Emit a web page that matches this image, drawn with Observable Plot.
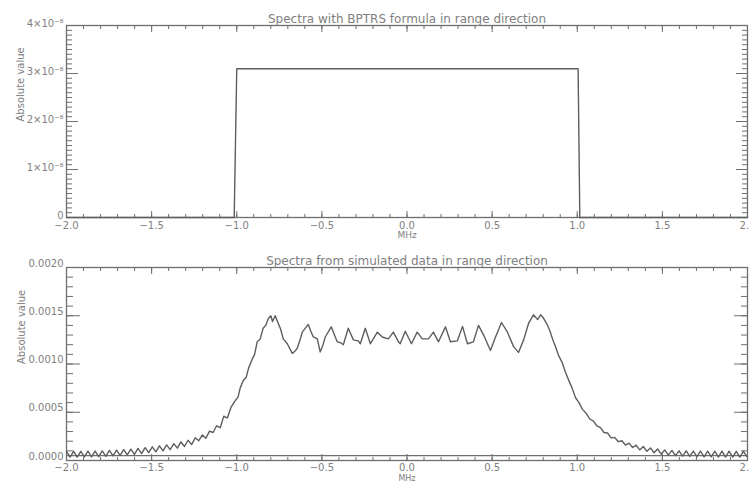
<!DOCTYPE html>
<html><head><meta charset="utf-8">
<script src="https://cdn.jsdelivr.net/npm/d3@7"></script>
<script src="https://cdn.jsdelivr.net/npm/@observablehq/plot@0.6"></script>
<style>
html,body{margin:0;padding:0;background:#fff;overflow:hidden}
#chart svg{display:block}
</style></head><body><div id="chart"></div>
<script>
// ---------- text ----------
const titleTop = "Spectra with BPTRS formula in range direction";
const titleBottom = "Spectra from simulated data in range direction";
const xLabel = "MHz";
const yLabel = "Absolute value";

// ---------- ticks ----------
const xMajorTicks = [-2, -1.5, -1, -0.5, 0, 0.5, 1, 1.5, 2];
const topYMajorTicks = [0, 1e-8, 2e-8, 3e-8, 4e-8];
const topYTickLabels = ["0", "1×10⁻⁸", "2×10⁻⁸", "3×10⁻⁸", "4×10⁻⁸"];
const bottomYMajorTicks = [0, 0.0005, 0.001, 0.0015, 0.002];
const bottomYTickLabels = ["0.0000", "0.0005", "0.0010", "0.0015", "0.0020"];

// ---------- top panel: BPTRS formula spectrum ----------
const bptrsFreq = [-2, -1.015, -1.0, 1.005, 1.015, 2];
const bptrsValue = [0, 0, 3.1e-8, 3.1e-8, 0, 0];

// ---------- bottom panel: simulated spectrum (values in units of 1e-4) ----------
const tailStep = 0.021;
const leftTailStart = -2.0;
const leftTailE4 = [0.95,0.35,0.95,0.35,0.95,0.37,0.97,0.38,0.98,0.40,1.0,0.42,1.05,0.48,1.08,0.52,
  1.12,0.58,1.18,0.64,1.25,0.72,1.33,0.82,1.42,0.9,1.52,1.0,1.62,1.12,1.75,1.28,1.92,1.45,2.1,1.65,
  2.35,2.05,2.65,2.3,3.05,2.9,3.6,3.4,4.6,4.4,5.5,6.1];
const centerFreq = [-0.992,-0.98,-0.962,-0.945,-0.93,-0.909,-0.895,-0.88,-0.862,-0.845,-0.83,-0.815,-0.80,-0.79,-0.774,-0.756,-0.742,-0.727,-0.703,-0.674,-0.66,-0.645,-0.63,-0.615,-0.58,-0.565,-0.55,-0.527,-0.51,-0.495,-0.48,-0.445,-0.41,-0.39,-0.374,-0.345,-0.315,-0.286,-0.274,-0.245,-0.215,-0.174,-0.145,-0.11,-0.08,-0.05,-0.04,-0.01,0.026,0.06,0.09,0.126,0.155,0.185,0.226,0.255,0.296,0.326,0.355,0.39,0.42,0.45,0.49,0.52,0.555,0.59,0.626,0.655,0.685,0.714,0.743,0.767,0.785,0.80,0.826,0.84,0.855,0.87,0.89,0.91,0.93,0.95,0.97,0.99];
const centerE4 = [6.6,7.5,8.3,8.6,9.6,10.5,11.0,12.3,12.6,13.7,14.0,14.7,15.0,14.4,15.0,14.2,13.6,12.6,12.1,11.1,11.3,11.6,12.4,13.3,14.1,13.4,12.8,12.6,11.25,11.9,12.8,13.85,12.3,12.2,12.0,13.7,12.5,12.4,12.1,13.7,12.1,13.3,12.8,12.6,13.3,12.3,12.1,13.4,12.1,13.3,12.6,12.6,13.3,12.3,13.85,12.3,12.4,13.9,12.1,12.3,14.0,13.0,11.4,12.8,14.3,13.3,11.8,11.2,12.5,14.2,15.1,14.6,15.1,14.8,14.0,13.4,12.6,11.9,10.9,10.2,9.2,8.3,7.5,6.5];
const rightTailStart = 1.01;
const rightTailE4 = [6.0,5.3,4.9,4.3,4.1,3.6,3.4,2.9,2.85,2.35,2.4,1.95,2.05,1.6,1.8,1.35,1.6,1.1,1.45,0.95,
  1.3,0.8,1.2,0.65,1.1,0.55,1.05,0.5,1.0,0.45,1.0,0.42,0.98,0.4,0.98,0.38,0.97,0.38,0.97,0.36,0.96,0.36,
  0.96,0.35,0.95,0.35,0.95,0.4];
const baselineValue = 0.00005;

// ---------- build tables ----------
const topData = bptrsFreq.map((f, i) => ({f, v: bptrsValue[i]}));
const simData = [
  ...leftTailE4.map((v, i) => ({f: leftTailStart + i * tailStep, v: v * 1e-4})),
  ...centerFreq.map((f, i) => ({f, v: centerE4[i] * 1e-4})),
  ...rightTailE4.map((v, i) => ({f: rightTailStart + i * tailStep, v: v * 1e-4}))
];

const xMinorTicks = d3.range(-20, 21).map(d => d / 10);
const topYMinorTicks = d3.range(0, 41).map(d => d * 1e-9);
const bottomYMinorTicks = d3.range(0, 21).map(d => d * 1e-4);

const ink = "#6e6e6e";
const textInk = "#808080";
const lineInk = "#5e5e5e";
const none = () => "";

function framedAxes(yMajor, yMinor, majorLen, minorLen, xPad) {
  return [
    Plot.frame({stroke: ink, strokeWidth: 1.3}),
    Plot.axisX({anchor: "bottom", ticks: xMinorTicks, tickSize: 3, dy: -3, tickFormat: none, stroke: ink, label: null}),
    Plot.axisX({anchor: "bottom", ticks: xMajorTicks, tickSize: 6, dy: -6, tickFormat: none, stroke: ink, label: null}),
    Plot.axisX({anchor: "top", ticks: xMinorTicks, tickSize: 3, dy: 3, tickFormat: none, stroke: ink, label: null}),
    Plot.axisX({anchor: "top", ticks: xMajorTicks, tickSize: 6, dy: 6, tickFormat: none, stroke: ink, label: null}),
    Plot.axisY({anchor: "left", ticks: yMinor, tickSize: minorLen, dx: minorLen, tickFormat: none, stroke: ink, label: null}),
    Plot.axisY({anchor: "left", ticks: yMajor, tickSize: majorLen, dx: majorLen, tickFormat: none, stroke: ink, label: null}),
    Plot.axisY({anchor: "right", ticks: yMinor, tickSize: minorLen, dx: -minorLen, tickFormat: none, stroke: ink, label: null}),
    Plot.axisY({anchor: "right", ticks: yMajor, tickSize: majorLen, dx: -majorLen, tickFormat: none, stroke: ink, label: null}),
    Plot.axisX({anchor: "bottom", ticks: xMajorTicks, tickSize: 0, tickPadding: xPad, tickFormat: d3.format(".1f"), fill: textInk, label: null})
  ];
}

const commonStyle = {fontFamily: "DejaVu Sans, sans-serif", fontSize: "10px", color: textInk, background: "white"};

const topPlot = Plot.plot({
  width: 749, height: 242,
  marginLeft: 66, marginRight: 2, marginTop: 25, marginBottom: 25,
  x: {domain: [-2, 2], label: null},
  y: {domain: [0, 4e-8], label: null},
  style: commonStyle,
  marks: [
    ...framedAxes(topYMajorTicks, topYMinorTicks, 12, 6, 4),
    Plot.axisY({anchor: "left", ticks: topYMajorTicks, tickSize: 0, tickPadding: 3, dy: -2,
      tickFormat: d => topYTickLabels[topYMajorTicks.indexOf(d)], fill: textInk, label: null}),
    Plot.line(topData, {x: "f", y: "v", stroke: lineInk, strokeWidth: 1.4}),
    Plot.text([titleTop], {text: d => d, frameAnchor: "top", dy: -11, fontSize: 12, fill: textInk}),
    Plot.text([xLabel], {text: d => d, frameAnchor: "bottom", dy: 20, fontSize: 9, fill: textInk}),
    Plot.text([yLabel], {text: d => d, frameAnchor: "left", dx: -46, rotate: -90, fontSize: 10, fill: textInk})
  ]
});

const bottomPlot = Plot.plot({
  width: 749, height: 242,
  marginLeft: 66, marginRight: 2, marginTop: 25, marginBottom: 24,
  x: {domain: [-2, 2], label: null},
  y: {domain: [0, 0.002], label: null},
  style: commonStyle,
  marks: [
    ...framedAxes(bottomYMajorTicks, bottomYMinorTicks, 14, 7, 3),
    Plot.axisY({anchor: "left", ticks: bottomYMajorTicks, tickSize: 0, tickPadding: 3, dy: -4,
      tickFormat: d => bottomYTickLabels[bottomYMajorTicks.indexOf(d)], fill: textInk, label: null}),
    Plot.ruleY([baselineValue], {stroke: ink, strokeWidth: 1.3}),
    Plot.line(simData, {x: "f", y: "v", stroke: lineInk, strokeWidth: 1.4}),
    Plot.text([titleBottom], {text: d => d, frameAnchor: "top", dy: -11, fontSize: 12, fill: textInk}),
    Plot.text([xLabel], {text: d => d, frameAnchor: "bottom", dy: 20, fontSize: 8, fill: textInk}),
    Plot.text([yLabel], {text: d => d, frameAnchor: "left", dx: -45, rotate: -90, fontSize: 10, fill: textInk})
  ]
});

const chart = document.getElementById("chart");
chart.appendChild(topPlot);
chart.appendChild(bottomPlot);
</script></body></html>
